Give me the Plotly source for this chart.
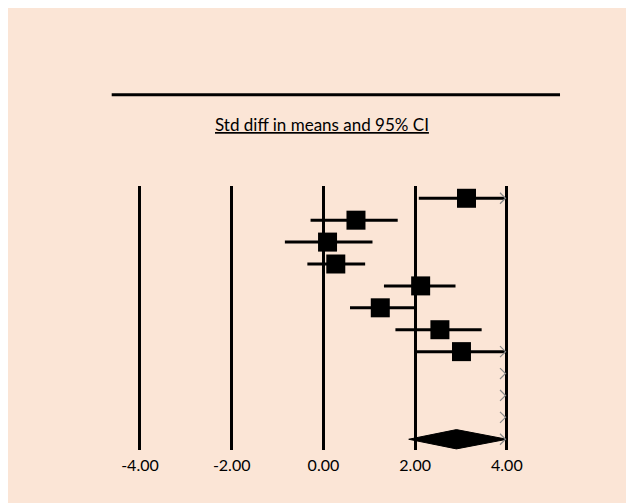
import plotly.graph_objects as go

# ---- data ----
effect = [3.12, 0.71, 0.09, 0.27, 2.12, 1.24, 2.54, 3.01, 4.60, 5.10, 4.80]
lower = [2.08, -0.28, -0.84, -0.35, 1.32, 0.58, 1.57, 1.99, 4.10, 4.30, 4.20]
upper = [4.16, 1.62, 1.07, 0.91, 2.88, 1.98, 3.45, 4.02, 5.10, 5.90, 5.40]
summary_effect = 2.90
summary_lower = 1.86
summary_upper = 4.05
tick_vals = [-4, -2, 0, 2, 4]
tick_text = ["-4.00", "-2.00", "0.00", "2.00", "4.00"]
axis_title = "Std diff in means and 95% CI"

XMAX = 4.0
BG = "#FBE5D6"
FONT = "Lato, 'Open Sans', sans-serif"

n = len(effect)
rows = list(range(n))
sum_row = n

fig = go.Figure()

# CI lines (clipped at axis limit)
cx, cy = [], []
for i in rows:
    if lower[i] < XMAX:
        cx += [lower[i], min(upper[i], XMAX), None]
        cy += [i, i, None]
fig.add_trace(go.Scatter(x=cx, y=cy, mode="lines",
                         line=dict(color="black", width=3), hoverinfo="skip"))

# point estimates (only those within range)
px = [effect[i] for i in rows if effect[i] <= XMAX]
py = [i for i in rows if effect[i] <= XMAX]
fig.add_trace(go.Scatter(x=px, y=py, mode="markers",
                         marker=dict(symbol="square", size=19, color="black",
                                     line=dict(width=0))))

# summary diamond
h = 0.44
s_hi = min(summary_upper, XMAX)
fig.add_trace(go.Scatter(
    x=[summary_lower, summary_effect, s_hi, summary_effect, summary_lower],
    y=[sum_row, sum_row - h, sum_row, sum_row + h, sum_row],
    mode="lines", fill="toself", fillcolor="black",
    line=dict(color="black", width=1), hoverinfo="skip"))

# arrows for CIs beyond axis limit
ax, ay = [], []
dx, dy = 0.15, 0.25
all_upper = upper + [summary_upper]
for i, u in enumerate(all_upper):
    if u > XMAX:
        ax += [XMAX - dx, XMAX - 0.03, XMAX - dx, None]
        ay += [i - dy, i, i + dy, None]
fig.add_trace(go.Scatter(x=ax, y=ay, mode="lines",
                         line=dict(color="#888888", width=1.2), hoverinfo="skip"))

fig.update_layout(
    width=634, height=503,
    margin=dict(l=88, r=66, t=178, b=61),
    paper_bgcolor=BG, plot_bgcolor=BG,
    showlegend=False,
    font=dict(family=FONT, color="black"),
    xaxis=dict(range=[-4.958, 5.507], tickvals=tick_vals, ticktext=tick_text,
               showgrid=True, gridcolor="black", gridwidth=3,
               zeroline=True, zerolinecolor="black", zerolinewidth=3,
               showline=False, ticks="", ticklabelstandoff=4,
               tickfont=dict(size=16, family=FONT)),
    yaxis=dict(range=[11.49, -0.56], visible=False, showgrid=False, zeroline=False),
    shapes=[dict(type="line", xref="paper", yref="paper",
                 x0=0.0327, x1=0.9667, y0=1.3458, y1=1.3458,
                 line=dict(color="black", width=3))],
    annotations=[dict(text="<u>" + axis_title + "</u>", xref="paper", yref="paper",
                      x=0.470, y=1.233, xanchor="center", yanchor="middle",
                      showarrow=False, font=dict(size=17, family=FONT, color="black"))],
)

fig.write_html("out.html")
